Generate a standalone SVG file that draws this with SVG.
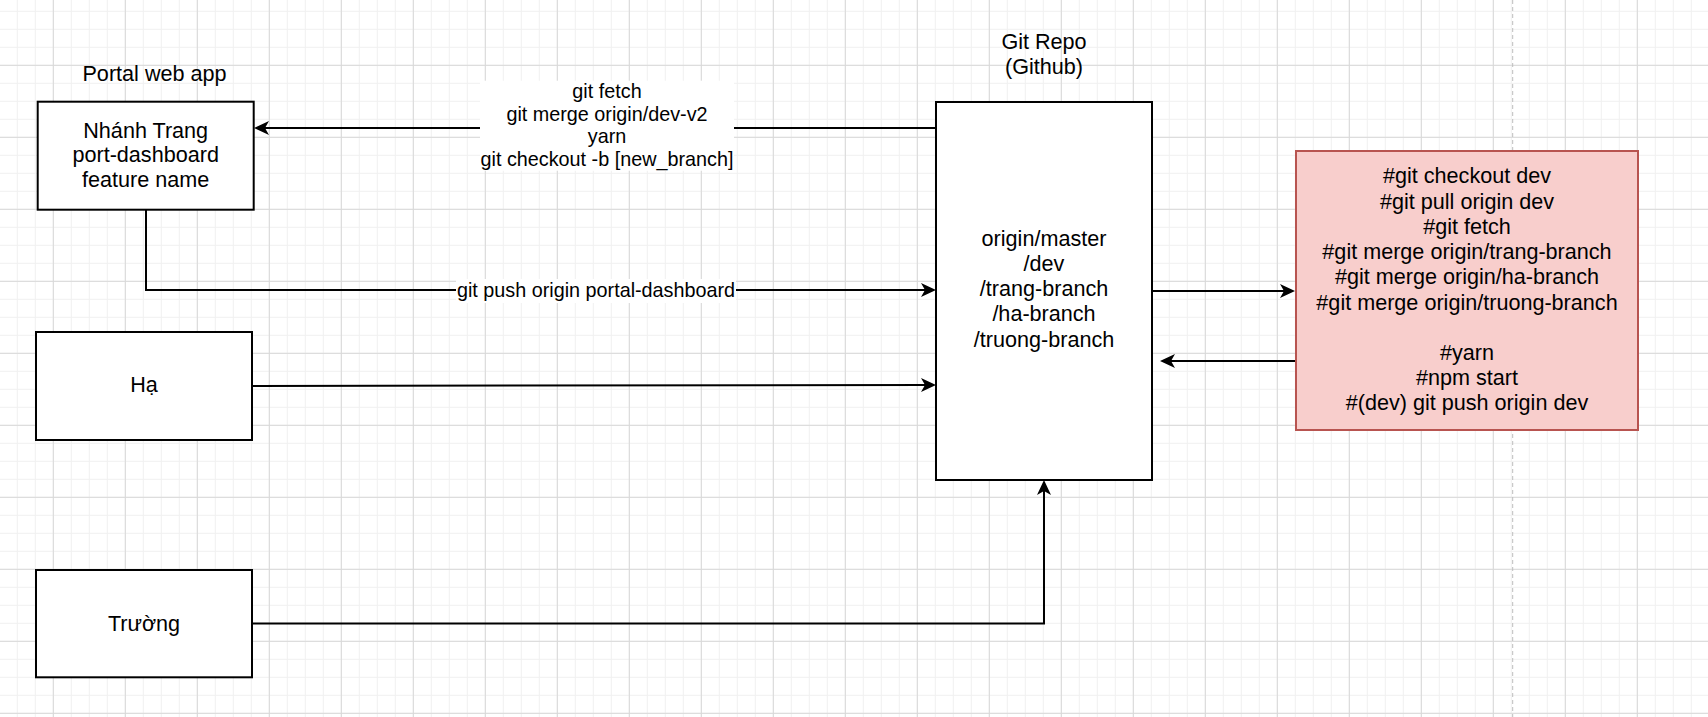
<svg xmlns="http://www.w3.org/2000/svg" width="1708" height="717" viewBox="0 0 1708 717">
  <style>
    .t { font-family: "Liberation Sans", Arial, sans-serif; font-size: 21.6px; fill: #000; text-anchor: middle; }
    .lbl { font-family: "Liberation Sans", Arial, sans-serif; font-size: 19.8px; fill: #000; text-anchor: middle; }
    .box { fill: #ffffff; stroke: #000; stroke-width: 2; }
    .red { fill: #f8cecc; stroke: #b85450; stroke-width: 2; }
    .edge { fill: none; stroke: #000; stroke-width: 2; marker-end: url(#arrow); }
  </style>
  <defs>
    <pattern id="minor" width="18" height="18" patternUnits="userSpaceOnUse" x="16.8" y="10.8">
      <path d="M0.5,0 V18 M0,0.5 H18" stroke="#f0f0f0" stroke-width="1" fill="none"/>
    </pattern>
    <pattern id="major" width="72" height="72" patternUnits="userSpaceOnUse" x="52.8" y="64.8">
      <path d="M0.5,0 V72 M0,0.5 H72" stroke="#d8d8d8" stroke-width="1" fill="none"/>
    </pattern>
    <marker id="arrow" markerUnits="userSpaceOnUse" viewBox="0 0 15 14" markerWidth="15" markerHeight="14" refX="4" refY="7" orient="auto">
      <path d="M15,7 L0,0 L4,7 L0,14 Z" fill="#000"/>
    </marker>
  </defs>

  <rect width="1708" height="717" fill="#ffffff"/>
  <rect width="1708" height="717" fill="url(#minor)"/>
  <rect width="1708" height="717" fill="url(#major)"/>
  <line x1="1512.7" y1="0" x2="1512.7" y2="717" stroke="#bdbdbd" stroke-width="1" stroke-dasharray="4 3"/>

  <g id="connectors">
    <path id="e-fetch" class="edge" d="M935,128 H265"/>
    <path id="e-push" class="edge" d="M146,209.7 V290 H925"/>
    <path id="e-ha" class="edge" d="M252,386 L925,385"/>
    <path id="e-repo-red" class="edge" d="M1152,291 H1284"/>
    <path id="e-red-repo" class="edge" d="M1296,361 H1171"/>
    <path id="e-truong" class="edge" d="M252,623.5 H1044 V491"/>

    <g id="label-fetch">
      <rect x="480" y="80.7" width="254" height="90" fill="#ffffff"/>
      <text class="lbl" x="607" y="97.5">git fetch</text>
      <text class="lbl" x="607" y="120.5">git merge origin/dev-v2</text>
      <text class="lbl" x="607" y="143">yarn</text>
      <text class="lbl" x="607" y="165.5">git checkout -b [new_branch]</text>
    </g>
    <g id="label-push">
      <rect x="456" y="279" width="280" height="24" fill="#ffffff"/>
      <text class="lbl" x="596" y="297">git push origin portal-dashboard</text>
    </g>
  </g>

  <g id="title-portal">
    <text class="t" x="154.5" y="81">Portal web app</text>
  </g>
  <g id="title-repo">
    <text class="t" x="1044" y="49.3">Git Repo</text>
    <text class="t" x="1044" y="73.5">(Github)</text>
  </g>

  <g id="node-trang">
    <rect class="box" x="37.7" y="101.7" width="216" height="108"/>
    <text class="t" x="145.7" y="137.7">Nhánh Trang</text>
    <text class="t" x="145.7" y="162.3">port-dashboard</text>
    <text class="t" x="145.7" y="186.8">feature name</text>
  </g>

  <g id="node-ha">
    <rect class="box" x="36" y="332" width="216" height="108"/>
    <text class="t" x="144" y="391.7">Hạ</text>
  </g>

  <g id="node-truong">
    <rect class="box" x="36" y="570" width="216" height="107.3"/>
    <text class="t" x="144" y="630.7">Trường</text>
  </g>

  <g id="node-repo">
    <rect class="box" x="936" y="102" width="216" height="378"/>
    <text class="t" x="1044" y="245.7">origin/master</text>
    <text class="t" x="1044" y="270.7">/dev</text>
    <text class="t" x="1044" y="296">/trang-branch</text>
    <text class="t" x="1044" y="320.9">/ha-branch</text>
    <text class="t" x="1044" y="346.7">/truong-branch</text>
  </g>

  <g id="node-commands">
    <rect class="red" x="1296" y="151" width="342" height="279"/>
    <text class="t" x="1467" y="183.3">#git checkout dev</text>
    <text class="t" x="1467" y="209.3">#git pull origin dev</text>
    <text class="t" x="1467" y="234.3">#git fetch</text>
    <text class="t" x="1467" y="259.3">#git merge origin/trang-branch</text>
    <text class="t" x="1467" y="284.3">#git merge origin/ha-branch</text>
    <text class="t" x="1467" y="310">#git merge origin/truong-branch</text>
    <text class="t" x="1467" y="360">#yarn</text>
    <text class="t" x="1467" y="385">#npm start</text>
    <text class="t" x="1467" y="410">#(dev) git push origin dev</text>
  </g>
</svg>
